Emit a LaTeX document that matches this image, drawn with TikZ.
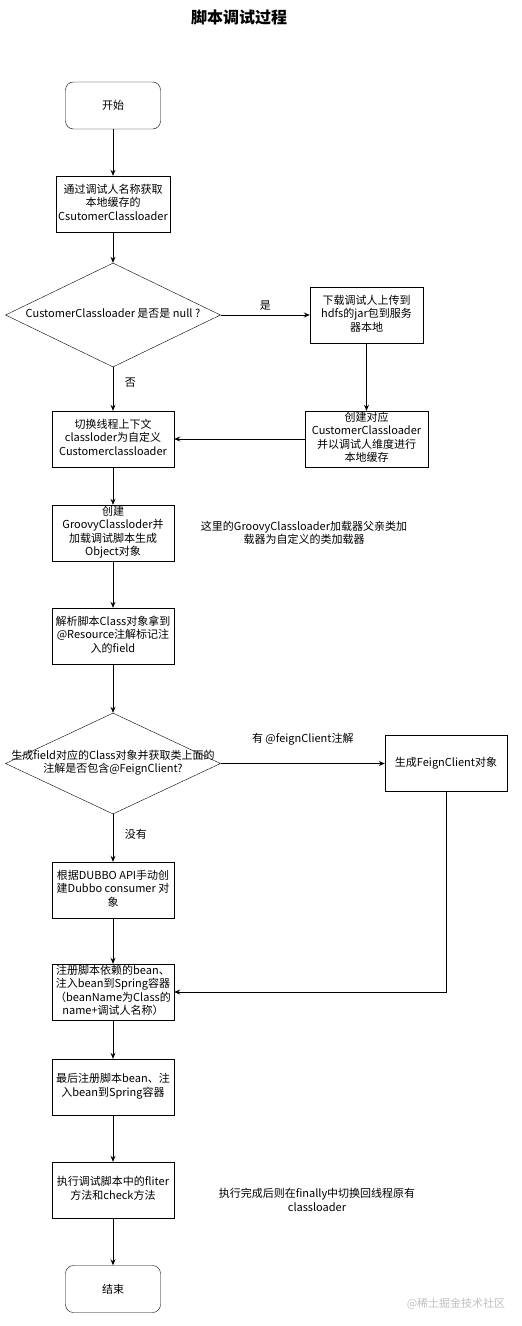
\documentclass[tikz,border=0pt]{standalone}
\usepackage{fontspec}
\setmainfont{Noto Sans CJK SC}
\usetikzlibrary{arrows.meta, shapes.geometric, positioning}

% lines of a box, kept at zero width so the box keeps its size
\newcommand{\boxtext}[1]{\makebox[0pt]{\begin{tabular}{@{}c@{}}#1\end{tabular}}}

\begin{document}
\begin{tikzpicture}[x=1pt, y=-1pt, >={Stealth[length=6pt,width=5pt]},
    every node/.style={font=\fontsize{11}{13.5}\selectfont},
    proc/.style={draw, rectangle, minimum width=122pt, minimum height=56pt, inner sep=0pt},
    term/.style={draw, rounded corners=8pt, minimum width=95pt, minimum height=47pt, inner sep=0pt},
    decide/.style={draw, diamond, minimum width=215pt, minimum height=104pt, inner sep=0pt},
    flow/.style={->, line width=0.9pt},
    note/.style={align=center}]
    \useasboundingbox (0,0) rectangle (522,1326);

    % Title
    \node[font=\bfseries\fontsize{16}{18}\selectfont] (title) at (239,17) {脚本调试过程};

    % Main column
    \node[term] (start) at (113,105.5) {开始};
    \node[proc, minimum width=114pt] (getcl) at (113,204) {\boxtext{通过调试人名称获取\\本地缓存的\\CsutomerClassloader}};
    \node[decide] (isnull) at (113,315) {\boxtext{CustomerClassloader 是否是 null ?}};
    \node[proc] (switchcl) at (113,439) {\boxtext{切换线程上下文\\classloder为自定义\\Customerclassloader}};
    \node[proc] (groovy) at (113,533) {\boxtext{创建\\GroovyClassloder并\\加载调试脚本生成\\Object对象}};
    \node[proc] (parse) at (113,636) {\boxtext{解析脚本Class对象拿到\\@Resource注解标记注\\入的field}};
    \node[decide, minimum height=101pt] (isfeign) at (113,763.5) {\boxtext{生成field对应的Class对象并获取类上面的\\注解是否包含@FeignClient?}};
    \node[proc] (dubbo) at (113,890) {\boxtext{根据DUBBO API手动创\\建Dubbo consumer 对\\象}};
    \node[proc] (regdep) at (113,992) {\boxtext{注册脚本依赖的bean、\\注入bean到Spring容器\\（beanName为Class的\\name+调试人名称）}};
    \node[proc] (regscript) at (113,1087) {\boxtext{最后注册脚本bean、注\\入bean到Spring容器}};
    \node[proc] (run) at (113,1190) {\boxtext{执行调试脚本中的fliter\\方法和check方法}};
    \node[term] (end) at (113,1289) {结束};

    % Right column
    \node[proc, minimum width=113pt] (download) at (366.5,315) {\boxtext{下载调试人上传到\\hdfs的jar包到服务\\器本地}};
    \node[proc, minimum width=123pt] (createcl) at (366.5,439) {\boxtext{创建对应\\CustomerClassloader\\并以调试人维度进行\\本地缓存}};
    \node[proc] (feign) at (446,763) {生成FeignClient对象};

    % Notes
    \node[note] (groovynote) at (304,533) {这里的GroovyClassloader加载器父亲类加\\载器为自定义的类加载器};
    \node[note] (runnote) at (317,1200) {执行完成后则在finally中切换回线程原有\\classloader};
    \node[text=gray!50] (mark) at (456,1304) {@稀土掘金技术社区};

    % Connectors
    \draw[flow] (start) -- (getcl);
    \draw[flow] (getcl) -- (isnull);
    \draw[flow] (isnull) -- node[above=1pt] {是} (download);
    \draw[flow] (isnull) -- node[pos=0.36, right=8pt] {否} (switchcl);
    \draw[flow] (download) -- (createcl);
    \draw[flow] (createcl) -- (switchcl);
    \draw[flow] (switchcl) -- (groovy);
    \draw[flow] (groovy) -- (parse);
    \draw[flow] (parse) -- (isfeign);
    \draw[flow] (isfeign.east) -- node[above=14pt] {有 @feignClient注解} (feign.west |- isfeign.east);
    \draw[flow] (isfeign) -- node[pos=0.42, right=8pt] {没有} (dubbo);
    \draw[flow] (dubbo) -- (regdep);
    \draw[flow] (feign) |- (regdep);
    \draw[flow] (regdep) -- (regscript);
    \draw[flow] (regscript) -- (run);
    \draw[flow] (run) -- (end);
\end{tikzpicture}
\end{document}
